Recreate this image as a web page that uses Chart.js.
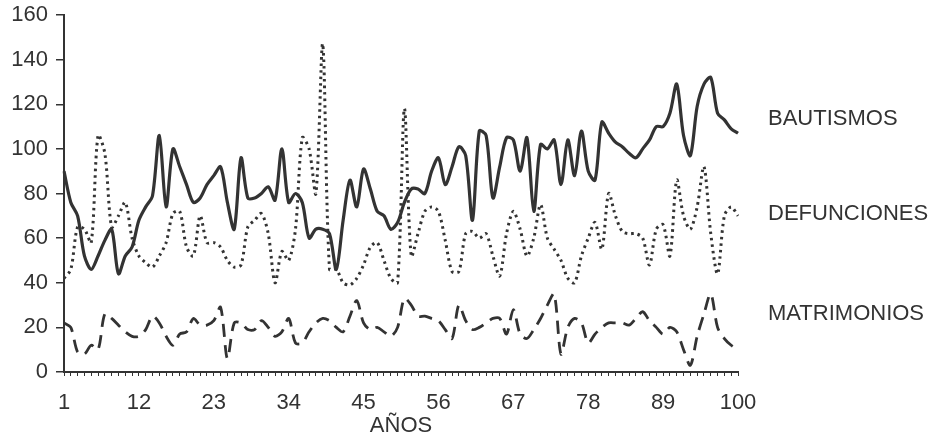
<!DOCTYPE html>
<html>
<head>
<meta charset="utf-8">
<script src="https://cdn.jsdelivr.net/npm/chart.js@4.4.1/dist/chart.umd.min.js"></script>
<style>
  html, body { margin: 0; padding: 0; background: #fff; }
  #wrap { width: 940px; height: 439px; position: relative; }
</style>
</head>
<body>
<div id="wrap"><canvas id="grafico"></canvas></div>
<script>
// años 1..100
const anos = [];
for (let i = 1; i <= 100; i++) anos.push(String(i));

const bautismos = [
  90, 76, 70, 52, 46, 52, 59, 64, 44, 52,
  56, 68, 74, 79, 106, 74, 100, 92, 84, 76,
  78, 84, 88, 92, 76, 64, 96, 78, 78, 80,
  83, 77, 100, 76, 80, 76, 60, 64, 64, 62,
  46, 68, 86, 74, 91, 82, 72, 70, 64, 67,
  76, 82, 82, 80, 90, 96, 84, 92, 101, 97,
  68, 108, 106, 78, 92, 105, 104, 90, 105, 72,
  102, 100, 104, 84, 104, 88, 108, 90, 86, 112,
  107, 103, 101, 98, 96, 100, 104, 110, 110, 116,
  129, 106, 97, 119, 129, 132, 116, 113, 109, 107
];

const defunciones = [
  42, 46, 65, 64, 58, 106, 98, 65, 70, 76,
  60, 52, 49, 47, 52, 58, 71, 72, 56, 52,
  70, 58, 58, 56, 50, 47, 48, 65, 68, 71,
  62, 40, 54, 50, 64, 105, 100, 80, 147, 46,
  46, 40, 39, 42, 48, 56, 58, 50, 42, 40,
  118, 52, 62, 72, 74, 72, 59, 45, 45, 62,
  63, 60, 62, 52, 43, 62, 72, 64, 52, 60,
  75, 60, 55, 50, 42, 40, 52, 60, 67, 55,
  80, 70, 63, 62, 62, 60, 48, 64, 66, 52,
  86, 70, 64, 74, 92, 62, 44, 70, 74, 70
];

const matrimonios = [
  22, 20, 9, 8, 12, 10, 26, 24, 21, 18,
  16, 16, 19, 25, 22, 16, 12, 17, 18, 24,
  21, 21, 23, 29, 6, 22, 22, 19, 19, 23,
  20, 16, 18, 24, 13, 13, 18, 22, 24, 23,
  20, 18, 25, 32, 22, 19, 20, 18, 16, 20,
  33, 30, 25, 25, 24, 23, 19, 15, 30, 23,
  19, 20, 22, 24, 24, 17, 28, 17, 15, 19,
  24, 30, 35, 8, 20, 24, 22, 13, 17, 20,
  22, 22, 22, 21, 24, 27, 23, 20, 17, 20,
  18, 10, 3, 16, 26, 35, 20, 15, 12, 10
];

const etiquetasX = ['1', '12', '23', '34', '45', '56', '67', '78', '89', '100'];
const ticksY = [0, 20, 40, 60, 80, 100, 120, 140, 160];
const nombres = ['BAUTISMOS', 'DEFUNCIONES', 'MATRIMONIOS'];

const tinta = '#333333';
const fuente = '"Liberation Sans", Arial, Helvetica, sans-serif';

// nombres de las series a la derecha del gráfico
const nombresSeries = {
  id: 'nombresSeries',
  afterDraw(chart) {
    const ctx = chart.ctx;
    const filas = [119, 214, 314];
    ctx.save();
    ctx.fillStyle = tinta;
    ctx.font = '22px ' + fuente;
    ctx.textAlign = 'left';
    ctx.textBaseline = 'middle';
    nombres.forEach((n, i) => {
      ctx.fillText(n, chart.chartArea.right + 30, filas[i]);
    });
    ctx.restore();
  }
};

const ctx = document.getElementById('grafico').getContext('2d');
new Chart(ctx, {
  type: 'line',
  data: {
    labels: anos,
    datasets: [
      {
        label: nombres[0],
        data: bautismos,
        borderColor: tinta,
        borderWidth: 3.2,
        pointRadius: 0,
        tension: 0.3
      },
      {
        label: nombres[1],
        data: defunciones,
        borderColor: tinta,
        borderWidth: 3,
        borderDash: [2.5, 4],
        pointRadius: 0,
        tension: 0.3
      },
      {
        label: nombres[2],
        data: matrimonios,
        borderColor: tinta,
        borderWidth: 2.8,
        borderDash: [13, 8],
        pointRadius: 0,
        tension: 0.3
      }
    ]
  },
  options: {
    responsive: true,
    maintainAspectRatio: false,
    animation: false,
    layout: { padding: { top: 15, right: 202, bottom: 0, left: 0 } },
    plugins: {
      legend: { display: false },
      tooltip: { enabled: false }
    },
    scales: {
      x: {
        type: 'category',
        offset: false,
        border: { display: true, color: tinta, width: 2 },
        grid: { drawOnChartArea: false, drawTicks: true, tickLength: 4, color: tinta, lineWidth: 1 },
        ticks: {
          autoSkip: false,
          maxRotation: 0,
          padding: 14,
          color: tinta,
          font: { family: fuente, size: 22 },
          callback: function (v, i) {
            const t = this.getLabelForValue(v);
            return etiquetasX.includes(t) ? t : '';
          }
        },
        title: {
          display: true,
          text: 'AÑOS',
          color: tinta,
          font: { family: fuente, size: 22 },
          padding: { top: 0, bottom: 0 }
        },
        afterFit(scale) { scale.height = 67; }
      },
      y: {
        min: 0,
        max: 160,
        border: { display: true, color: tinta, width: 2 },
        grid: { drawOnChartArea: false, drawTicks: true, tickLength: 8, color: tinta, lineWidth: 1.5 },
        afterBuildTicks(scale) { scale.ticks = ticksY.map(v => ({ value: v })); },
        ticks: {
          padding: 8,
          color: tinta,
          font: { family: fuente, size: 22 }
        },
        afterFit(scale) {
          scale.width = 64;
          scale.paddingTop = 0;
          scale.paddingBottom = 0;
        }
      }
    }
  },
  plugins: [nombresSeries]
});
</script>
</body>
</html>
